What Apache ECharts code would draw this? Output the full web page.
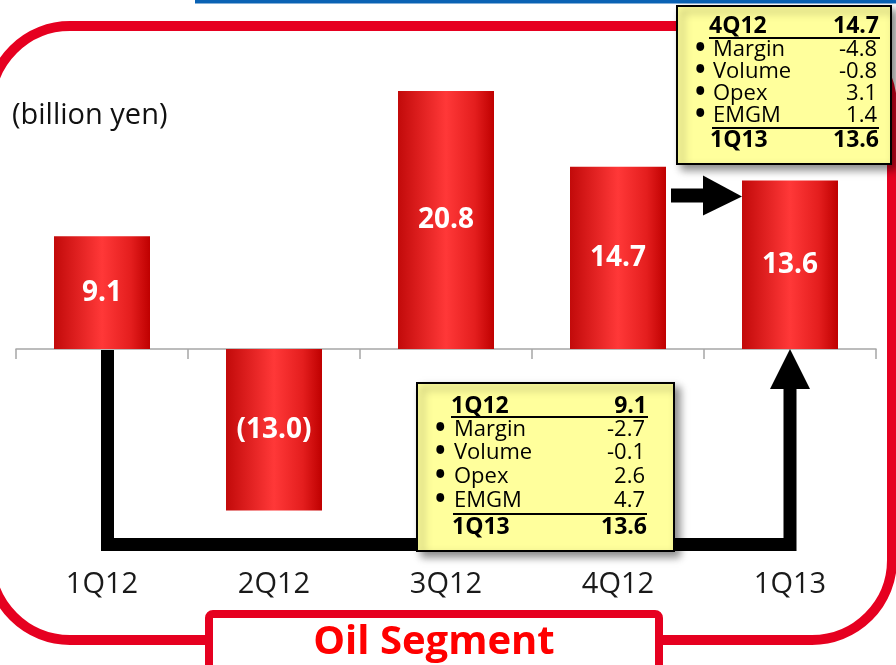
<!DOCTYPE html>
<html><head><meta charset="utf-8">
<script src="https://cdn.jsdelivr.net/npm/echarts@6/dist/echarts.min.js"></script>
<style>html,body{margin:0;padding:0;background:#fff}#c{width:896px;height:665px}</style>
</head><body><div id="c"></div>
<script>
const categories = ['1Q12', '2Q12', '3Q12', '4Q12', '1Q13'];
const values = [9.1, -13.0, 20.8, 14.7, 13.6];
const unitLabel = '(billion yen)';
const segmentTitle = 'Oil Segment';
const bridgeItems = ['Margin', 'Volume', 'Opex', 'EMGM'];
const bridgeA = { from: ['1Q12', '9.1'], items: ['-2.7', '-0.1', '2.6', '4.7'], to: ['1Q13', '13.6'] };
const bridgeB = { from: ['4Q12', '14.7'], items: ['-4.8', '-0.8', '3.1', '1.4'], to: ['1Q13', '13.6'] };

const FONT = '"Open Sans", "Liberation Sans", sans-serif';
const chart = echarts.init(document.getElementById('c'), null, { renderer: 'canvas' });

const barGrad = new echarts.graphic.LinearGradient(0, 0, 1, 0, [
  { offset: 0, color: '#c20a0a' },
  { offset: 0.5, color: '#ff3838' },
  { offset: 0.8, color: '#e41e1e' },
  { offset: 1, color: '#bf0000' }
]);

chart.setOption({
  animation: false,
  grid: { left: 16, right: 20, top: 39, bottom: 105 },
  xAxis: [
    {
      type: 'category', data: categories,
      axisLine: { onZero: true, lineStyle: { color: '#a6a6a6', width: 1.5 } },
      axisTick: { show: true, length: 10, lineStyle: { color: '#a6a6a6', width: 1.5 } },
      axisLabel: { show: false }, splitLine: { show: false }
    },
    {
      type: 'category', data: categories, position: 'bottom',
      axisLine: { show: false, onZero: false }, axisTick: { show: false },
      axisLabel: { margin: 10, fontSize: 29, lineHeight: 30, color: '#1a1a1a', fontFamily: FONT }
    }
  ],
  yAxis: { type: 'value', min: -17, max: 25, show: false },
  series: [{
    type: 'bar', data: values, barWidth: 96, xAxisIndex: 0,
    itemStyle: { color: barGrad },
    label: {
      show: true, position: 'inside', color: '#fff', fontWeight: 'bold', fontSize: 28, fontFamily: FONT,
      formatter: p => p.value < 0 ? '(' + Math.abs(p.value).toFixed(1) + ')' : p.value.toFixed(1)
    },
    z: 3
  }]
});

function px(i, v) { return chart.convertToPixel({ xAxisIndex: 0, yAxisIndex: 0 }, [i, v]); }

function txt(x, y, s, opts) {
  return {
    type: 'text', z: 12,
    style: Object.assign({ x: x, y: y, text: s, fill: '#000', font: '22px ' + FONT, textAlign: 'left', textVerticalAlign: 'middle' }, opts || {})
  };
}

function bridgeBox(b, box) {
  const els = [];
  els.push({
    type: 'rect', z: 11,
    shape: { x: box.x, y: box.y, width: box.w, height: box.h },
    style: { fill: '#ffff9c', stroke: '#000', lineWidth: 2, shadowBlur: 8, shadowOffsetX: 5, shadowOffsetY: 5, shadowColor: 'rgba(0,0,0,0.45)' }
  });
  const L = box.textL, R = box.textR;
  els.push(txt(L, box.rows[0], b.from[0], { font: 'bold 23px ' + FONT }));
  els.push(txt(R, box.rows[0], b.from[1], { font: 'bold 23px ' + FONT, textAlign: 'right' }));
  els.push({ type: 'line', z: 12, shape: { x1: L, y1: box.line1, x2: R + 1, y2: box.line1 }, style: { stroke: '#000', lineWidth: 2 } });
  for (let k = 0; k < bridgeItems.length; k++) {
    const y = box.rows[k + 1];
    els.push(txt(box.bulletX, y - 1, '•', { font: 'bold 28px ' + FONT }));
    els.push(txt(box.labelX, y, bridgeItems[k]));
    els.push(txt(R - 2, y, b.items[k], { textAlign: 'right' }));
  }
  els.push({ type: 'line', z: 12, shape: { x1: box.labelX - 1, y1: box.line2, x2: R, y2: box.line2 }, style: { stroke: '#000', lineWidth: 2 } });
  els.push(txt(L + 1, box.rows[5], b.to[0], { font: 'bold 23px ' + FONT }));
  els.push(txt(R, box.rows[5], b.to[1], { font: 'bold 23px ' + FONT, textAlign: 'right' }));
  return els;
}

const first = px(0, 0), last = px(4, 0);
const q4top = px(3, values[3]), q1top = px(4, values[4]);
const half = 48;
const lineY = 544.5;
const arrowY = q1top[1] + 15;

const graphics = [
  { type: 'rect', z: 0, shape: { x: 195, y: 0, width: 701, height: 3.5 }, style: { fill: '#0a62b4' } },
  { type: 'rect', z: 0, shape: { x: -10, y: 26, width: 902, height: 614, r: 80 }, style: { fill: null, stroke: '#e60020', lineWidth: 10 } },
  txt(12, 116, unitLabel, { font: '29px ' + FONT, fill: '#111' }),
  { type: 'polyline', z: 5, shape: { points: [[first[0] + 5.5, first[1] + 1], [first[0] + 5.5, lineY], [last[0], lineY], [last[0], first[1] + 38]] }, style: { stroke: '#000', lineWidth: 13, lineJoin: 'miter', fill: null } },
  { type: 'polygon', z: 5, shape: { points: [[last[0] - 20, first[1] + 40], [last[0] + 20, first[1] + 40], [last[0], first[1]]] }, style: { fill: '#000' } },
  { type: 'polyline', z: 5, shape: { points: [[q4top[0] + half + 5, arrowY], [q4top[0] + half + 39, arrowY]] }, style: { stroke: '#000', lineWidth: 14, fill: null } },
  { type: 'polygon', z: 5, shape: { points: [[q4top[0] + half + 37, arrowY - 20], [q4top[0] + half + 37, arrowY + 20], [q1top[0] - half, arrowY + 1]] }, style: { fill: '#000' } },
  { type: 'rect', z: 6, shape: { x: 209, y: 614, width: 450, height: 70, r: 4 }, style: { fill: '#fff', stroke: '#e60020', lineWidth: 8 } },
  txt(434, 643, segmentTitle, { font: 'bold 40px ' + FONT, fill: '#ff0000', textAlign: 'center' })
];

graphics.push(...bridgeBox(bridgeB, {
  x: 677, y: 6, w: 214, h: 158,
  textL: 709, textR: 879, bulletX: 695, labelX: 713,
  rows: [26, 50, 72, 94, 116, 140], line1: 38, line2: 128
}));
graphics.push(...bridgeBox(bridgeA, {
  x: 417, y: 383, w: 257, h: 168,
  textL: 451, textR: 647, bulletX: 435, labelX: 454,
  rows: [406, 430, 453, 477, 501, 527], line1: 417, line2: 514
}));

chart.setOption({ graphic: graphics });
</script>
</body></html>
